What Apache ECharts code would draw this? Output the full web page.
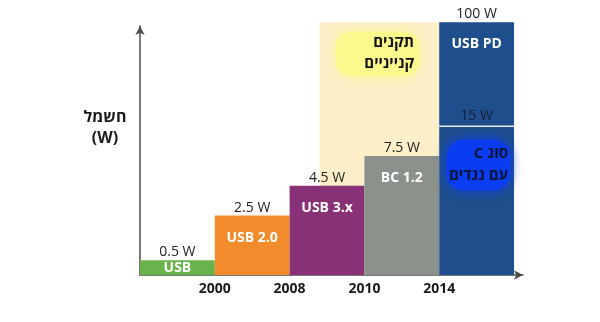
<!DOCTYPE html>
<html><head><meta charset="utf-8">
<script src="https://cdn.jsdelivr.net/npm/echarts@6/dist/echarts.min.js"></script>
<style>html,body{margin:0;padding:0;background:#fff}#c{width:600px;height:322px}</style>
</head><body><div id="c"></div>
<script>
// ---- data ----
const standards = ['USB', 'USB 2.0', 'USB 3.x', 'BC 1.2', 'USB PD'];
const powerLabels = ['0.5 W', '2.5 W', '4.5 W', '7.5 W', '100 W'];
const levels = [1, 4, 6, 8, 17];            // schematic step heights (not to scale)
const barColors = ['#69b34c', '#f28b2c', '#883177', '#8b928c', '#1f4e8c'];
const xTickValues = [1, 2, 3, 4];
const xTickLabels = ['2000', '2008', '2010', '2014'];
const typeCLevel = 10;
const typeCLabel = '15 W';
const proprietaryRange = [2.4, 4, 17];       // x start, x end, top level
const yAxisName = 'חשמל\n(W)';
const proprietaryNote = 'תקנים\nקנייניים';
const typeCNote = '\u2067סוג C\u2069\nעם נגדים';

const FONT = '"Open Sans", "DejaVu Sans", sans-serif';
const chart = echarts.init(document.getElementById('c'), null, {renderer: 'canvas'});

const barData = standards.map((s, i) => [i, i + 1, levels[i], i]);

chart.setOption({
  animation: false,
  grid: {left: 140, right: 77, top: 26, bottom: 47},
  xAxis: {
    type: 'value', min: 0, max: 5.12, interval: 1,
    splitLine: {show: false}, axisTick: {show: false},
    axisLine: {show: true, symbol: ['none', 'arrow'], symbolSize: [7, 9],
      lineStyle: {color: '#4d4d4d', width: 1.5}},
    axisLabel: {
      margin: 7, color: '#1a1a1a', fontWeight: 'bold', fontSize: 14, fontFamily: FONT,
      showMaxLabel: false, showMinLabel: false,
      formatter: v => { const k = xTickValues.indexOf(v); return k >= 0 ? xTickLabels[k] : ''; }
    }
  },
  yAxis: {
    type: 'value', min: 0, max: 16.75,
    splitLine: {show: false}, axisTick: {show: false}, axisLabel: {show: false},
    axisLine: {show: true, symbol: ['none', 'arrow'], symbolSize: [7, 9],
      lineStyle: {color: '#4d4d4d', width: 1.5}}
  },
  series: [
    {
      type: 'custom', z: 1, clip: false,
      data: [proprietaryRange],
      renderItem(params, api) {
        const a = api.coord([api.value(0), 0]);
        const b = api.coord([api.value(1), api.value(2)]);
        return {type: 'rect', shape: {x: a[0], y: b[1], width: b[0] - a[0], height: a[1] - b[1]},
          style: {fill: '#fcefc9'}};
      }
    },
    {
      type: 'custom', z: 2, clip: false,
      data: barData,
      renderItem(params, api) {
        const i = api.value(3);
        const a = api.coord([api.value(0), 0]);
        const b = api.coord([api.value(1), api.value(2)]);
        const x = a[0], y = b[1], w = b[0] - a[0], h = a[1] - b[1];
        const cy = y + Math.min(22, h / 2);
        return {type: 'group', children: [
          {type: 'rect', shape: {x, y, width: w, height: h}, style: {fill: barColors[i]}},
          {type: 'text', style: {text: standards[i], x: x + w / 2, y: cy, align: 'center',
            verticalAlign: 'middle', fill: '#ffffff', font: 'bold 14px ' + FONT}},
          {type: 'text', style: {text: powerLabels[i], x: x + w / 2, y: y - 1, align: 'center',
            verticalAlign: 'bottom', fill: '#222222', font: '14px ' + FONT}}
        ]};
      }
    },
    {
      type: 'custom', z: 3, clip: false,
      data: [[4, 5, typeCLevel]],
      renderItem(params, api) {
        const a = api.coord([api.value(0), api.value(2)]);
        const b = api.coord([api.value(1), api.value(2)]);
        return {type: 'group', children: [
          {type: 'line', shape: {x1: a[0], y1: a[1], x2: b[0], y2: b[1]},
            style: {stroke: '#e8eef6', lineWidth: 1.5}},
          {type: 'text', style: {text: typeCLabel, x: (a[0] + b[0]) / 2, y: a[1] - 3, align: 'center',
            verticalAlign: 'bottom', fill: '#15223a', font: '14px ' + FONT}}
        ]};
      }
    }
  ],
  graphic: [
    {type: 'text', z: 10, x: 105, y: 107,
      style: {text: yAxisName, align: 'center', verticalAlign: 'top', font: 'bold 16px ' + FONT, fill: '#1a1a1a', lineHeight: 21}},
    {type: 'rect', z: 9, shape: {x: 336, y: 32, width: 83, height: 44, r: 14},
      style: {fill: '#fbf98e', shadowBlur: 12, shadowColor: '#fbf98e'}},
    {type: 'text', z: 10, x: 414, y: 32,
      style: {text: proprietaryNote, align: 'right', verticalAlign: 'top', font: 'bold 15px ' + FONT, fill: '#111111', lineHeight: 21}},
    {type: 'rect', z: 9, shape: {x: 447, y: 140, width: 63, height: 50, r: 16},
      style: {fill: '#0a3cf2', shadowBlur: 12, shadowColor: '#0a3cf2'}},
    {type: 'text', z: 10, x: 508, y: 143,
      style: {text: typeCNote, align: 'right', verticalAlign: 'top', font: 'bold 15px ' + FONT, fill: '#0b1430', lineHeight: 22}}
  ]
});
</script></body></html>
